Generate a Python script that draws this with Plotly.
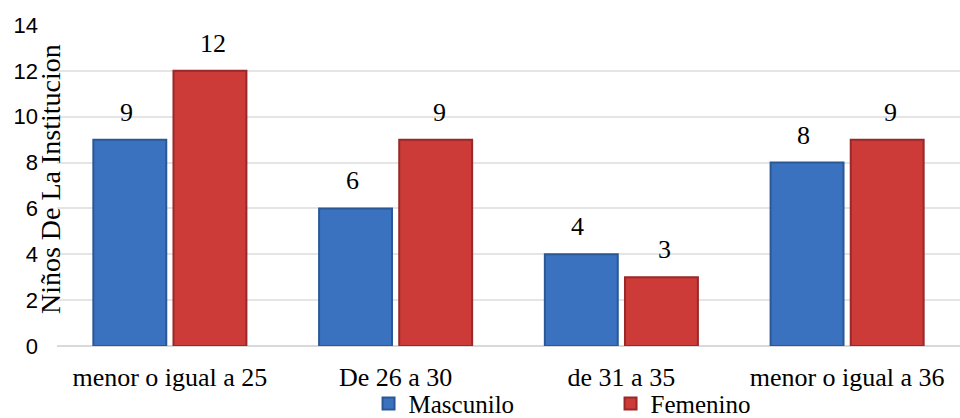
import plotly.graph_objects as go

categories = ["menor o igual a 25", "De 26 a 30", "de 31 a 35", "menor o igual a 36"]
masculino = [9, 6, 4, 8]
femenino = [12, 9, 3, 9]
y_ticks = [0, 2, 4, 6, 8, 10, 12, 14]

serif = "Liberation Serif"
sans = "Liberation Sans"

series = [
    ("Mascunilo", masculino, "#3a72c0", "#2a5896", -43.5),
    ("Femenino", femenino, "#cc3b37", "#99282a", 43.5),
]

fig = go.Figure()
annotations = []
for name, values, fill, edge, shift in series:
    fig.add_trace(go.Bar(
        name=name, x=categories, y=values,
        marker=dict(color=fill, line=dict(color=edge, width=2)),
    ))
    # value labels sitting above each bar
    for cat, v in zip(categories, values):
        annotations.append(dict(
            x=cat, y=v, xref="x", yref="y", text=str(v), showarrow=False,
            xanchor="center", yanchor="bottom", xshift=shift, yshift=11,
            font=dict(family=serif, size=26, color="#000000"),
        ))

annotations.append(dict(
    text="Niños De La Institucion", xref="paper", yref="paper",
    x=0, xanchor="center", y=0.52, yanchor="middle", xshift=-7,
    textangle=-90, showarrow=False,
    font=dict(family=serif, size=28, color="#000000"),
))

fig.update_layout(
    width=960, height=418,
    margin=dict(l=57, r=0, t=25, b=72, autoexpand=False),
    paper_bgcolor="white", plot_bgcolor="white",
    barmode="group", bargap=0.29, bargroupgap=0.09,
    showlegend=True,
    legend=dict(
        orientation="h", x=0.345, xanchor="left", y=-0.18, yanchor="middle",
        font=dict(family=serif, size=25, color="#000000"),
        entrywidth=197, entrywidthmode="pixels",
        itemwidth=30, bgcolor="rgba(0,0,0,0)",
    ),
    xaxis=dict(
        tickfont=dict(family=serif, size=26, color="#000000"),
        showgrid=False, showline=False, ticks="", ticklabelstandoff=13,
    ),
    yaxis=dict(
        range=[0, 14], tickvals=y_ticks,
        tickfont=dict(family=sans, size=22, color="#000000"),
        showgrid=True, gridcolor="#e5e5e5", gridwidth=1.5,
        zeroline=True, zerolinecolor="#d9d9d9", zerolinewidth=2,
        ticks="", ticklabelstandoff=18,
    ),
    annotations=annotations,
)

fig.write_html("out.html")
